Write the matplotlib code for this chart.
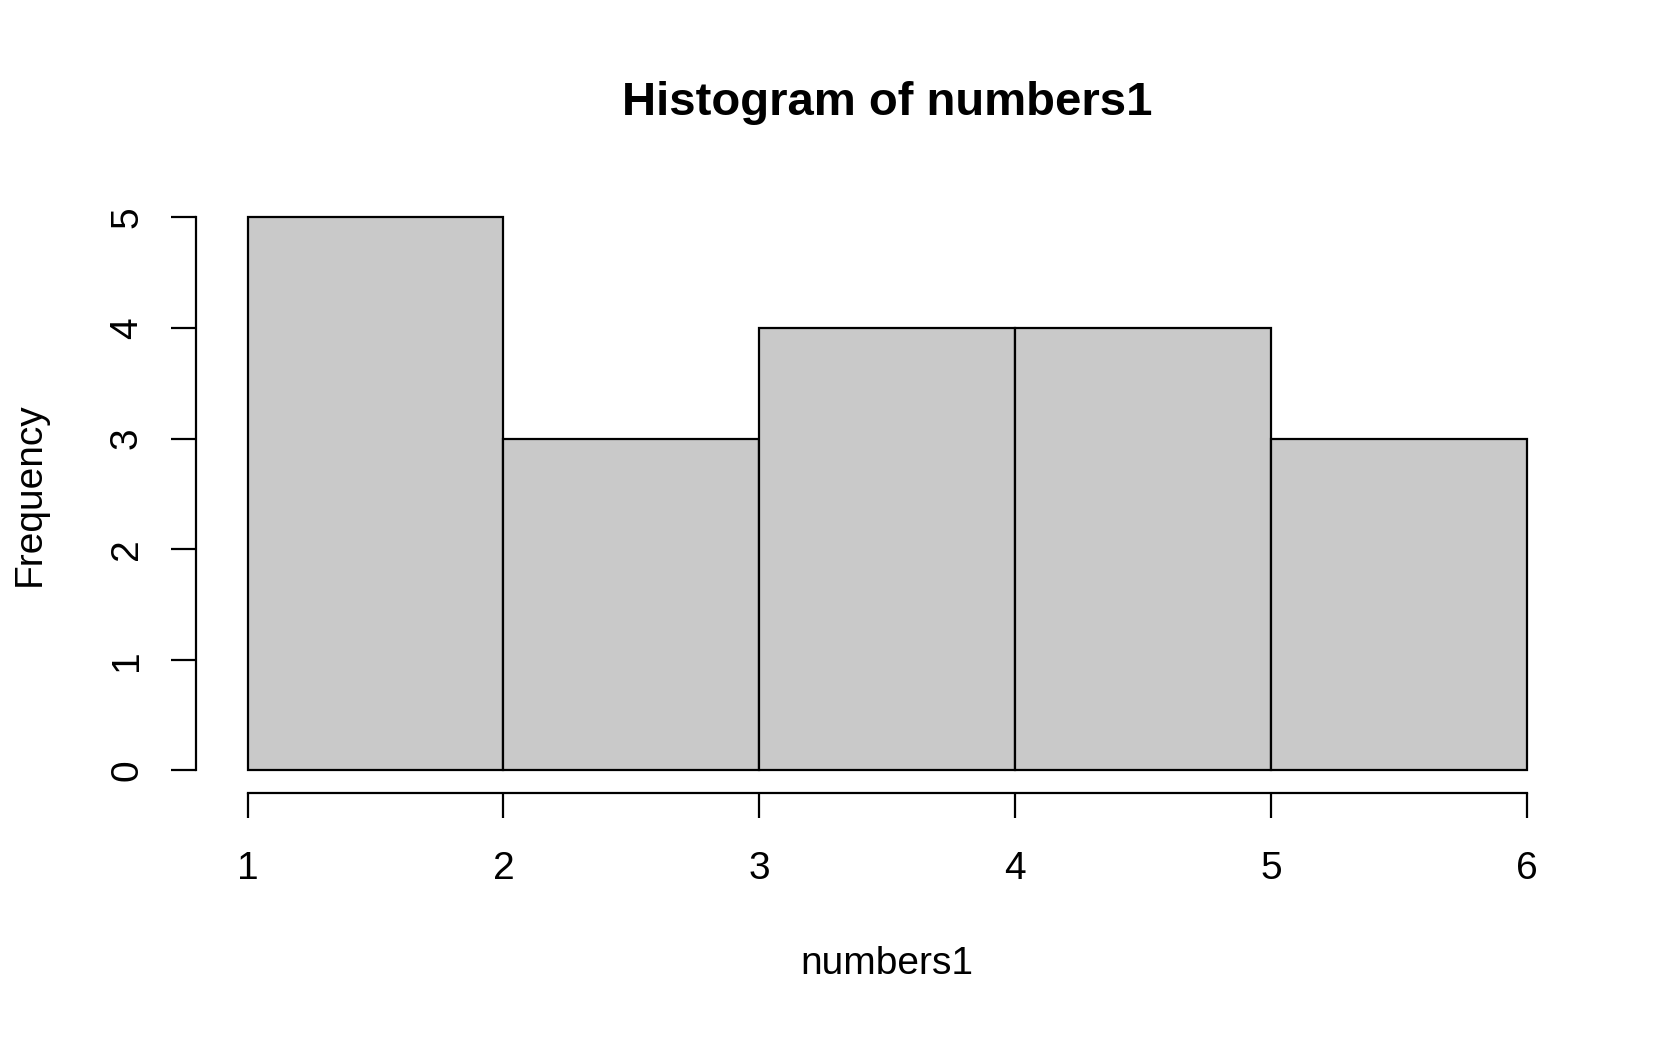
import numpy as np
import matplotlib
matplotlib.use('Agg')
import matplotlib.pyplot as plt

plt.rcParams['font.family'] = ['Liberation Sans', 'DejaVu Sans']

# histogram of numbers1: bin edges and counts
breaks = [1, 2, 3, 4, 5, 6]
counts = [5, 3, 4, 4, 3]
x_ticks = [1, 2, 3, 4, 5, 6]
y_ticks = [0, 1, 2, 3, 4, 5]

fig = plt.figure(figsize=(16.8, 10.38), dpi=100)
ax = fig.add_axes([0.1169, 0.2365, 0.8224, 0.5753])

widths = np.diff(breaks)
ax.bar(breaks[:-1], counts, width=widths, align='edge',
       color='#c9c9c9', edgecolor='black', linewidth=1.6)

ax.set_xlim(0.8, 6.2)
ax.set_ylim(-0.2, 5.2)

# R-style detached axes
for side in ['top', 'right']:
    ax.spines[side].set_visible(False)
ax.spines['left'].set_bounds(0, 5)
ax.spines['bottom'].set_bounds(1, 6)
ax.spines['left'].set_linewidth(1.6)
ax.spines['bottom'].set_linewidth(1.6)

ax.set_xticks(x_ticks)
ax.set_yticks(y_ticks)
ax.set_yticklabels([str(v) for v in y_ticks], rotation=90, va='center')
ax.tick_params(axis='both', direction='out', length=18, width=1.6,
               labelsize=28)
ax.tick_params(axis='x', pad=24)
ax.tick_params(axis='y', pad=19)

fig.text(0.528, 1 - 103 / 1038, 'Histogram of numbers1', ha='center',
         va='center', fontsize=34, fontweight='bold')
fig.text(0.528, 1 - 964 / 1038, 'numbers1', ha='center', va='center',
         fontsize=28)
fig.text(30 / 1680, 1 - 494 / 1038, 'Frequency', ha='center', va='center',
         rotation=90, fontsize=28)

fig.savefig('out.png', dpi=100)
